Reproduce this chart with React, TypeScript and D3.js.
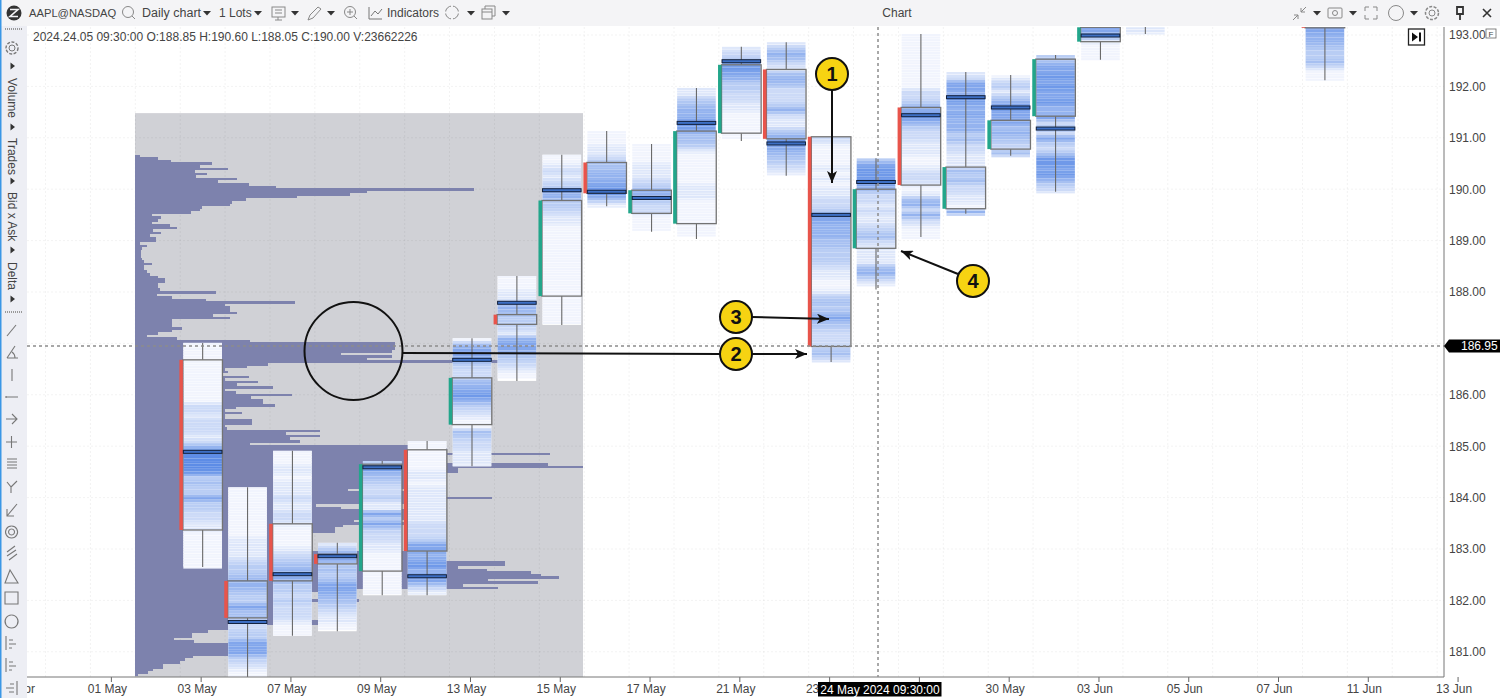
import { useEffect, useRef } from 'react';
import * as d3 from 'd3';

const FONT = '"Liberation Sans", Arial, sans-serif';

const tradingDays = [
  '29 Apr', '30 Apr', '01 May', '02 May', '03 May', '06 May', '07 May', '08 May', '09 May', '10 May', '13 May',
  '14 May', '15 May', '16 May', '17 May', '20 May', '21 May', '22 May', '23 May', '24 May', '28 May', '29 May',
  '30 May', '31 May', '03 Jun', '04 Jun', '05 Jun', '06 Jun', '07 Jun', '10 Jun', '11 Jun', '12 Jun', '13 Jun',
];
const dayTicks = tradingDays.filter((_, i) => i % 2 === 0);
const priceTicks = [181, 182, 183, 184, 185, 186, 187, 188, 189, 190, 191, 192, 193];

const candleDays = [
  '03 May', '06 May', '07 May', '08 May', '09 May', '10 May', '13 May', '14 May', '15 May', '16 May', '17 May', '20 May',
  '21 May', '22 May', '23 May', '24 May', '28 May', '29 May', '30 May', '31 May', '03 Jun', '04 Jun', '10 Jun',
];
const opens = [
  186.68, 182.38, 183.49, 182.9, 182.57, 184.93, 185.42, 187.56, 187.92, 190.52, 189.53, 189.33,
  191.09, 192.33, 191.02, 188.85, 191.59, 189.62, 190.78, 191.42, 192.87, 193.6, 194,
];
const highs = [
  187.01, 184.2, 184.91, 183.12, 184.71, 185.1, 187.1, 188.31, 190.67, 191.13, 190.88, 191.97,
  192.77, 192.86, 191.02, 190.6, 193.02, 192.28, 192.22, 192.61, 193.3, 194, 194,
];
const lows = [
  182.65, 180.4, 181.31, 181.4, 182.1, 182.1, 184.61, 186.27, 187.36, 189.67, 189.17, 189.03,
  190.94, 190.26, 186.64, 188.05, 189.07, 189.52, 190.65, 189.95, 192.52, 193.02, 192.12,
];
const closes = [
  183.37, 181.66, 182.38, 182.71, 184.65, 182.96, 186.33, 187.37, 189.78, 189.92, 189.98, 191.13,
  192.42, 190.98, 186.94, 190.0, 190.08, 190.43, 191.34, 192.53, 193.15, 193.9, 193.14,
];
const pocs = [
  184.89, 181.58, 182.51, 182.86, 184.59, 182.47, 186.68, 187.79, 189.98, 189.95, 189.83, 191.29,
  192.49, 190.89, 189.5, 190.14, 191.44, 191.79, 191.59, 191.18, 192.99, 193.7, 193.7,
];
// traded volume per 0.10 of price, top to bottom, one digit 0-9 per step
const clusterHeat = [
  '000000000000221222125888873433633221100000000',
  '0000000000111123345543364422336663210',
  '000110111211221000012345653323222100',
  '13663434665432110',
  '38543223116363221100000000',
  '000000110111111122236656756631',
  '0466532245675321004322111',
  '00011354332156643210',
  '00121235533211',
  '000112445567741',
  '00001112355322000',
  '1134556764431000000111',
  '123676533221100000',
  '13542145422235211357654321',
  '21000010101122366555443332110013434643222342',
  '3677764221211234211114531',
  '0000000000022356753221110012210145252100',
  '1266576565553422111434221105',
  '0231357666454324',
  '346676766755624263247767532',
  '66651000',
  '0000000011',
  '6666666666554334200',
];

// session volume profile for 03-15 May, one value per 0.05 of price from the top
const profileCeiling = 191.48;
const profileTop = 190.67;
const profileStep = 0.05;
const profileVolumes = [
  5, 23, 36, 77, 65, 93, 60, 72, 61, 102, 83, 114, 141, 339, 232, 215, 162, 111, 97, 95, 67, 65, 56,
  17, 26, 23, 17, 35, 42, 18, 26, 15, 21, 21, 5, 12, 7, 6, 6, 6, 7, 9, 17, 9, 9, 12, 15,
  23, 30, 30, 23, 23, 25, 81, 22, 37, 71, 160, 90, 95, 95, 102, 78, 95, 37, 37, 37, 47, 37, 23, 12, 42, 115,
  260, 260, 260, 257, 206, 257, 232, 363,
  133, 112, 90, 93, 88, 114, 90, 123, 102, 138, 90, 101, 157, 116, 128, 128, 140, 101, 90, 107, 90, 90, 117, 117, 90, 92, 185, 151, 185, 155, 165, 115,
  273, 312, 312, 415, 312, 312, 312, 413, 448, 323, 323, 269, 269, 269, 269, 269, 269, 213, 269, 269, 357, 269, 269,
  181, 206, 269, 269, 269, 269, 219, 269, 208, 200, 200, 175, 175, 175, 175, 175, 175, 175,
  295, 295, 295, 295, 370, 370, 323, 352, 396, 406, 424, 353, 403, 328, 363,
  184, 160, 160, 160, 224, 170, 170, 170, 170, 170, 170, 170, 184, 184, 130, 125,
  73, 57, 57, 39, 59, 93, 93, 93, 93, 93, 58, 50, 45, 28, 28, 18, 13, 3,
];

const crosshairPrice = 186.95;
const crosshairDay = '24 May';

const width = 1500;
const height = 698;
const plot = { left: 27, top: 27, right: 1444, bottom: 677 };

const x = d3.scaleBand().domain(tradingDays).range([0.65, 0.65 + 44.89 * tradingDays.length]);
const y = d3.scaleLinear().domain([181, 193]).range([651.8, 35]);
const profileX = d3.scaleLinear().domain([0, 448]).range([135, 583]);
const heatColor = d3.scaleLinear<string>().domain([0, 9]).range(['#f1f4fd', '#4a7fe3']);
const centre = (d: string) => (x(d) as number) + x.bandwidth() / 2;

const candles = candleDays.map((day, i) => ({
  day,
  open: opens[i],
  high: highs[i],
  low: lows[i],
  close: closes[i],
  poc: pocs[i],
  heat: clusterHeat[i],
}));

const Caret = ({ cx, cy }: { cx: number; cy: number }) => (
  <path d={`M${cx - 4},${cy - 2}L${cx + 4},${cy - 2}L${cx},${cy + 2.5}Z`} fill="#333" />
);
const SideCaret = ({ cy }: { cy: number }) => (
  <path d={`M10.5,${cy - 3.5}L15,${cy}L10.5,${cy + 3.5}Z`} fill="#333" />
);
const SideLabel = ({ cy, text }: { cy: number; text: string }) => (
  <text transform={`translate(7.5,${cy}) rotate(90)`} fontSize={12} fill="#444">
    {text}
  </text>
);
const Badge = ({ cx, cy, n }: { cx: number; cy: number; n: number }) => (
  <g>
    <circle cx={cx} cy={cy} r={16} fill="#f6d312" stroke="#111" strokeWidth={2} />
    <text x={cx} y={cy + 7} textAnchor="middle" fontSize={20} fontWeight="bold" fill="#111">
      {n}
    </text>
  </g>
);

const TopBar = () => (
  <g>
    <rect x={0} y={0} width={width} height={26} fill="#f4f4f6" />
    <circle cx={14} cy={13} r={7.5} fill="#333" />
    <path d="M10,9.5H18L10,16.5H18" stroke="#f4f4f6" strokeWidth={1.6} fill="none" />
    <g fontSize={12.5} fill="#444">
      <text x={29} y={17} fontSize={11.2}>AAPL@NASDAQ</text>
      <text x={142} y={17}>Daily chart</text>
      <text x={219} y={17} fontSize={12}>1 Lots</text>
      <text x={387} y={17} fontSize={12}>Indicators</text>
      <text x={897} y={17} textAnchor="middle" fontSize={12}>Chart</text>
    </g>
    <g stroke="#888" strokeWidth={1} fill="none">
      <circle cx={128} cy={12} r={5.5} />
      <path d="M132,16L135,19" />
      <rect x={272} y={7} width={13} height={10} />
      <path d="M275,10H282M275,13H282M278,17V20M275,20H282" />
      <path d="M308,20L310,15L318,7L321,9L313,18Z" />
      <circle cx={350} cy={12} r={5.5} />
      <path d="M347,12H353M350,9V15M354,16L357,19" />
      <path d="M369,7V19H382M371,16L375,11L378,14L382,9" stroke="#777" />
      <circle cx={452} cy={12.5} r={6.5} />
      <path d="M452,4V8M452,17V21M443,12.5H447M457,12.5H461" stroke="#f4f4f6" strokeWidth={2} />
      <rect x={482} y={9} width={10} height={10} />
      <path d="M485,9V6H495V16H492M482,12H492" />
      <path d="M1293,20L1298,15M1298,19V15H1294M1306,7L1301,12M1301,8V12H1305" />
      <rect x={1328} y={8} width={14} height={10} rx={1} />
      <circle cx={1335} cy={13} r={2.5} />
      <path d="M1365,11V7H1369M1377,11V7H1373M1365,15V19H1369M1377,15V19H1373" />
      <circle cx={1396} cy={13} r={7.5} />
      <circle cx={1432} cy={13} r={3} />
      <circle cx={1432} cy={13} r={6.5} strokeDasharray="3 1.5" strokeWidth={1.5} />
    </g>
    <path d="M1457,7H1463V14H1457ZM1460,14V20" fill="none" stroke="#333" strokeWidth={1.8} />
    <path d="M1483,9L1491,17M1491,9L1483,17" stroke="#333" strokeWidth={1.6} />
    {[207, 258, 295, 331, 471, 506, 1317, 1353, 1414].map((cx) => (
      <Caret key={cx} cx={cx} cy={13} />
    ))}
  </g>
);

const leftIcons: [number, string][] = [
  [330, 'M7,336L16,325'],
  [353, 'M7,358L15,346M7,358H18M12,352Q15,354 15,358'],
  [375, 'M12,369V381'],
  [397, 'M6,397H18M6,396V398'],
  [419, 'M6,419H17M12,414L17,419L12,424'],
  [442, 'M6,442H17M11.5,436V448'],
  [464, 'M7,459H17M7,462H17M7,465H17M7,468H17'],
  [487, 'M11,493V487L7,482M11,487L17,481'],
  [510, 'M7,516L17,504M7,509V516H14'],
  [532, 'M11.5,526A6,6 0 1 0 11.6,526M11.5,529A3,3 0 1 0 11.6,529'],
  [553, 'M7,552L15,546M7,556L16,550M9,560L17,554'],
  [577, 'M5,583L10,570L18,583Z'],
  [598, 'M5,592H18V604H5Z'],
  [621, 'M11.5,615A6.5,6.5 0 1 0 11.6,615'],
  [643, 'M6,636V650M9,640H13M9,644H16M9,648H12'],
  [665, 'M6,658V672M9,662H13M9,666H16M9,670H12'],
  [688, 'M17,681V695M6,688H14M9,692H14M10,684H14'],
];

const LeftBar = () => (
  <g>
    <rect x={0} y={26} width={27} height={height - 26} fill="#edeef4" />
    <rect x={0} y={0} width={1.5} height={height} fill="#3b97e6" />
    <path d="M5,29H22M5,312H22" stroke="#999" strokeWidth={2} strokeDasharray="1 1" />
    <circle cx={12} cy={48} r={3} fill="none" stroke="#777" />
    <circle cx={12} cy={48} r={6} fill="none" stroke="#777" strokeDasharray="3 1.5" strokeWidth={1.4} />
    <SideCaret cy={66} />
    <SideLabel cy={78} text="Volume" />
    <SideCaret cy={127} />
    <SideLabel cy={138} text="Trades" />
    <SideCaret cy={181} />
    <SideLabel cy={192} text="Bid x Ask" />
    <SideCaret cy={250} />
    <SideLabel cy={262} text="Delta" />
    <SideCaret cy={299} />
    {leftIcons.map(([key, d]) => (
      <path key={key} d={d} fill="none" stroke="#777" strokeWidth={1.1} />
    ))}
  </g>
);

const App = () => {
  const chartRef = useRef<SVGGElement>(null);

  useEffect(() => {
    document.body.style.margin = '0';
    const root = d3.select(chartRef.current);
    root.selectAll('*').remove();

    const clipped = root.append('g').attr('clip-path', 'url(#plot-clip)');

    // profile backdrop
    clipped
      .append('rect')
      .attr('x', profileX(0))
      .attr('y', y(profileCeiling))
      .attr('width', profileX(448) - profileX(0))
      .attr('height', plot.bottom - y(profileCeiling))
      .attr('fill', '#d0d1d6');

    // grid
    const grid = clipped.append('g').attr('stroke', '#000').attr('stroke-opacity', 0.05).attr('stroke-dasharray', '2 2');
    grid
      .selectAll('line.v')
      .data(tradingDays)
      .enter()
      .append('line')
      .attr('x1', (d) => x(d) as number)
      .attr('x2', (d) => x(d) as number)
      .attr('y1', plot.top)
      .attr('y2', plot.bottom);
    grid
      .selectAll('line.h')
      .data(priceTicks)
      .enter()
      .append('line')
      .attr('x1', plot.left)
      .attr('x2', plot.right)
      .attr('y1', (d) => y(d))
      .attr('y2', (d) => y(d));

    // volume profile
    clipped
      .append('g')
      .attr('shape-rendering', 'crispEdges')
      .selectAll('rect')
      .data(profileVolumes)
      .enter()
      .append('rect')
      .attr('x', profileX(0))
      .attr('y', (_, i) => y(profileTop - i * profileStep))
      .attr('width', (d) => profileX(d) - profileX(0))
      .attr('height', y(0) - y(profileStep))
      .attr('fill', '#7d82ad');

    // candles with cluster columns
    const colW = x.bandwidth() * 0.86;
    const g = clipped.selectAll('g.candle').data(candles).enter().append('g').attr('class', 'candle');

    g.append('rect')
      .attr('x', (d) => centre(d.day) - colW / 2)
      .attr('y', (d) => y(d.high))
      .attr('width', colW)
      .attr('height', (d) => y(d.low) - y(d.high))
      .attr('fill', '#fff');

    g.each(function (d) {
      const steps = Math.round((d.high - d.low) / 0.1);
      const digit = (i: number) => +(d.heat[i] ?? 0);
      // every digit spans two price levels, the second one blends into the next digit
      const levels = d3.range(steps * 2).map((k) => {
        const i = Math.floor(k / 2);
        return {
          price: d.high - k * 0.05,
          heat: k % 2 === 0 ? digit(i) : (digit(i) + digit(i + 1)) / 2,
        };
      });
      const levelH = y(0) - y(0.05);
      d3.select(this)
        .selectAll('rect.level')
        .data(levels)
        .enter()
        .append('rect')
        .attr('class', 'level')
        .attr('x', centre(d.day) - colW / 2)
        .attr('y', (l) => y(l.price))
        .attr('width', colW)
        .attr('height', (l) => levelH - (l.heat < 1.5 ? 0.45 : 0))
        .attr('fill', (l) => heatColor(l.heat));
    });

    // wicks stop at the body
    g.append('path')
      .attr('d', (d) => {
        const c = centre(d.day);
        return `M${c},${y(d.high)}V${y(Math.max(d.open, d.close))}M${c},${y(Math.min(d.open, d.close))}V${y(d.low)}`;
      })
      .attr('stroke', '#6a6a6a')
      .attr('stroke-width', 1.1)
      .attr('fill', 'none');

    g.append('rect')
      .attr('x', (d) => centre(d.day) - colW / 2 - 0.5)
      .attr('y', (d) => y(Math.max(d.open, d.close)))
      .attr('width', colW + 1)
      .attr('height', (d) => y(Math.min(d.open, d.close)) - y(Math.max(d.open, d.close)))
      .attr('fill', 'none')
      .attr('stroke', '#737373')
      .attr('stroke-width', 1.3);

    g.append('rect')
      .attr('x', (d) => centre(d.day) - colW / 2 - 4)
      .attr('y', (d) => y(Math.max(d.open, d.close)))
      .attr('width', 3.5)
      .attr('height', (d) => y(Math.min(d.open, d.close)) - y(Math.max(d.open, d.close)))
      .attr('fill', (d) => (d.close < d.open ? '#e8544b' : '#22a68b'));

    g.append('rect')
      .attr('x', (d) => centre(d.day) - colW / 2)
      .attr('y', (d) => y(d.poc) - 1.5)
      .attr('width', colW)
      .attr('height', 3)
      .attr('fill', '#3d6fc4')
      .attr('stroke', '#12213d')
      .attr('stroke-width', 1);

    // axes; 28 May sits under the crosshair time label, 187.00 under the price flag
    const xAxis = root
      .append('g')
      .attr('transform', `translate(-1.5,${plot.bottom})`)
      .call(
        d3
          .axisBottom(x)
          .tickValues(dayTicks)
          .tickFormat((d) => (d === '28 May' ? '' : d))
          .tickSize(5)
          .tickSizeOuter(0)
          .tickPadding(2)
      );
    xAxis.select('.domain').remove();
    xAxis.selectAll('line').attr('stroke', '#666');
    xAxis
      .selectAll('text')
      .attr('dx', -4)
      .attr('fill', '#444')
      .attr('font-size', 12)
      .attr('font-family', FONT);
    root
      .append('line')
      .attr('x1', plot.left)
      .attr('x2', plot.right)
      .attr('y1', plot.bottom)
      .attr('y2', plot.bottom)
      .attr('stroke', '#777');

    const yAxis = root
      .append('g')
      .attr('transform', `translate(${plot.right},0)`)
      .call(
        d3
          .axisRight(y)
          .tickValues(priceTicks.filter((d) => d !== 187))
          .tickFormat(d3.format('.2f'))
          .tickSize(0)
          .tickPadding(5)
      );
    yAxis.select('.domain').remove();
    yAxis.selectAll('text').attr('fill', '#444').attr('font-size', 12).attr('font-family', FONT);
    root
      .append('line')
      .attr('x1', plot.right)
      .attr('x2', plot.right)
      .attr('y1', plot.top)
      .attr('y2', plot.bottom)
      .attr('stroke', '#777');

    // crosshair
    const hair = root
      .append('g')
      .attr('stroke', '#8c8c8c')
      .attr('stroke-width', 1.5)
      .attr('stroke-dasharray', '3 3');
    hair
      .append('line')
      .attr('x1', plot.left)
      .attr('x2', plot.right)
      .attr('y1', y(crosshairPrice))
      .attr('y2', y(crosshairPrice));
    hair
      .append('line')
      .attr('x1', centre(crosshairDay) + 2)
      .attr('x2', centre(crosshairDay) + 2)
      .attr('y1', plot.top)
      .attr('y2', plot.bottom);

    const ty = y(crosshairPrice);
    root
      .append('path')
      .attr('d', `M${plot.right},${ty}L${plot.right + 5},${ty - 6.5}H${width}V${ty + 6.5}H${plot.right + 5}Z`)
      .attr('fill', '#000');
    root
      .append('text')
      .attr('x', 1461)
      .attr('y', ty + 4.5)
      .attr('fill', '#fff')
      .attr('font-size', 12)
      .attr('font-family', FONT)
      .text(crosshairPrice.toFixed(2));
  }, []);

  return (
    <svg
      width={width}
      height={height}
      style={{ position: 'absolute', left: 0, top: 0, display: 'block', background: '#fff' }}
      fontFamily={FONT}
    >
      <defs>
        <clipPath id="plot-clip">
          <rect x={plot.left} y={plot.top} width={plot.right - plot.left} height={plot.bottom - plot.top} />
        </clipPath>
        <marker id="head" markerUnits="userSpaceOnUse" markerWidth={13} markerHeight={10} refX={12} refY={5} orient="auto">
          <path d="M0,0L12,5L0,10L3,5Z" fill="#111" />
        </marker>
      </defs>

      <g ref={chartRef} />

      <text x={33} y={41} fontSize={12} fill="#444">
        2024.24.05 09:30:00 O:188.85 H:190.60 L:188.05 C:190.00 V:23662226
      </text>

      {/* callouts */}
      <circle cx={353.5} cy={351} r={49} fill="none" stroke="#111" strokeWidth={2} />
      <g stroke="#111" strokeWidth={2} fill="none">
        <path d="M402,353L720,354" />
        <path d="M752,354L807,354" markerEnd="url(#head)" />
        <path d="M832,90L832,183" markerEnd="url(#head)" />
        <path d="M752,317L829,319" markerEnd="url(#head)" />
        <path d="M958,274L901,251" markerEnd="url(#head)" />
      </g>
      <Badge cx={832} cy={74} n={1} />
      <Badge cx={736} cy={354} n={2} />
      <Badge cx={736} cy={317} n={3} />
      <Badge cx={973} cy={281} n={4} />

      {/* crosshair time label */}
      <rect x={818} y={682} width={123.5} height={14.5} fill="#000" />
      <text x={880} y={693.5} textAnchor="middle" fontSize={12} fill="#fff">
        24 May 2024 09:30:00
      </text>

      {/* jump-to-end button and price scale flag */}
      <rect x={1408.5} y={29} width={16} height={16} fill="#fff" stroke="#222" strokeWidth={1.3} />
      <path d="M1412,32.5L1418,37L1412,41.5ZM1419,32.5H1421V41.5H1419Z" fill="#111" />
      <rect x={1486} y={29} width={10} height={9} fill="#fff" stroke="#666" strokeWidth={0.8} />
      <text x={1491} y={37} textAnchor="middle" fontSize={8} fill="#444">F</text>

      <TopBar />
      <LeftBar />
    </svg>
  );
};

export default App;
